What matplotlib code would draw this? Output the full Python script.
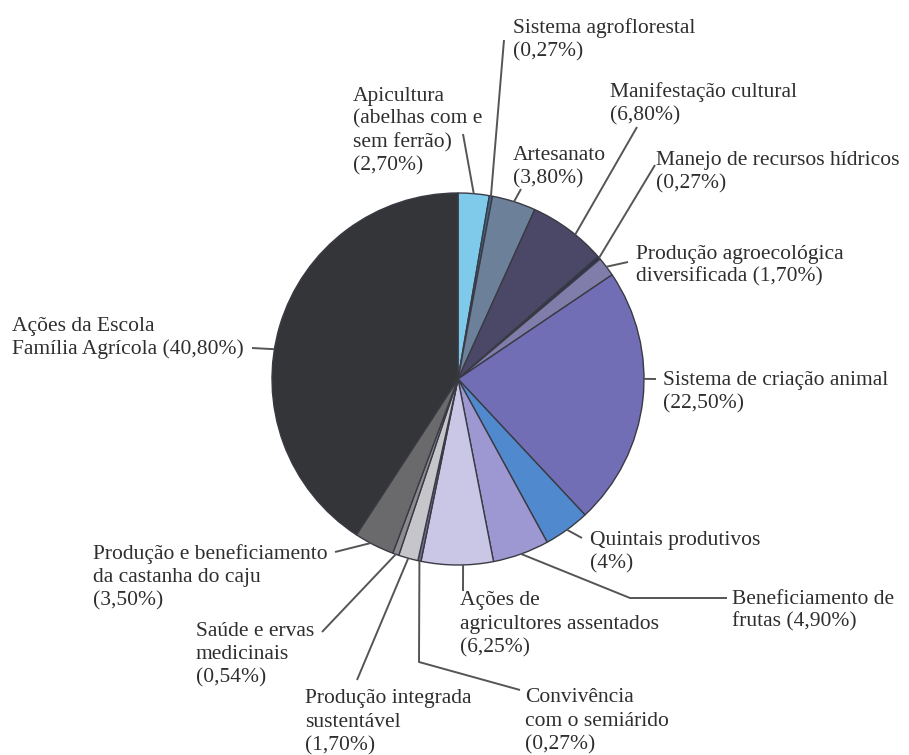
import numpy as np
import matplotlib.pyplot as plt

# slices, clockwise from the top
labels = ['Apicultura\n(abelhas com e\nsem ferrão)\n({}%)',
          'Sistema agroflorestal\n({}%)',
          'Artesanato\n({}%)',
          'Manifestação cultural\n({}%)',
          'Manejo de recursos hídricos\n({}%)',
          'Produção agroecológica\ndiversificada ({}%)',
          'Sistema de criação animal\n({}%)',
          'Quintais produtivos\n({}%)',
          'Beneficiamento de\nfrutas ({}%)',
          'Ações de\nagricultores assentados\n({}%)',
          'Convivência\ncom o semiárido\n({}%)',
          'Produção integrada\nsustentável\n({}%)',
          'Saúde e ervas\nmedicinais\n({}%)',
          'Produção e beneficiamento\nda castanha do caju\n({}%)',
          'Ações da Escola\nFamília Agrícola ({}%)']
values = [2.70, 0.27, 3.80, 6.80, 0.27, 1.70, 22.50, 4, 4.90, 6.25,
          0.27, 1.70, 0.54, 3.50, 40.80]
colors = ['#7fc9ea', '#3d6a8c', '#6c8099', '#4b4867', '#2e3352', '#817daa',
          '#726eb5', '#5089cd', '#9d98d1', '#cac7e6', '#6f6d96', '#c5c5ca',
          '#8c8c90', '#6a6a6d', '#333538']

# label layout: text x, first line y, anchor fraction in wedge, leader points
layout = [
    (353, 95, 0.5, [(463, 134)]),
    (513, 28, 0.5, [(504, 40)]),
    (513, 155, 0.5, [(521, 189)]),
    (610, 92, 0.6, [(637, 127)]),
    (656, 160, 0.5, [(655, 165)]),
    (636, 253, 0.5, [(628, 262)]),
    (663, 380, 0.42, [(656, 379)]),
    (590, 540, 0.5, [(582, 538)]),
    (732, 598, 0.5, [(630, 598), (727, 598)]),
    (460, 600, 0.42, [(463, 591)]),
    (525, 697, 0.5, [(419, 662), (520, 690)]),
    (305, 698, 0.5, [(357, 680)]),
    (196, 630, 0.5, [(322, 632)]),
    (93, 553, 0.6, [(335, 552)]),
    (12, 325, 0.45, [(252, 348)]),
]

cx, cy, r = 458, 379, 186

fig = plt.figure(figsize=(9.09, 7.55), dpi=100)
ax = fig.add_axes([0, 0, 1, 1])
wedges, _ = ax.pie(values, colors=colors, startangle=-90, counterclock=True,
                   center=(cx, cy), radius=r,
                   wedgeprops=dict(edgecolor='#3a3a44', linewidth=1.0))
ax.set_xlim(0, 909)
ax.set_ylim(755, 0)
ax.axis('off')

for w, lab, v, (tx, ty, f, pts) in zip(wedges, labels, values, layout):
    pct = ('%d' % v) if float(v).is_integer() else ('%.2f' % v).replace('.', ',')
    lines = lab.format(pct).split('\n')
    for i, line in enumerate(lines):
        ax.text(tx, ty + 5.5 + i * 23.3, line, ha='left', va='baseline',
                fontsize=15.5, family='Liberation Serif', color='#2e2e2e')
    th = np.radians(w.theta1 + f * (w.theta2 - w.theta1))
    xs = [cx + r * np.cos(th)] + [p[0] for p in pts]
    ys = [cy + r * np.sin(th)] + [p[1] for p in pts]
    ax.plot(xs, ys, color='#555555', lw=1.4, solid_capstyle='butt')

fig.savefig('out.png', dpi=100)
